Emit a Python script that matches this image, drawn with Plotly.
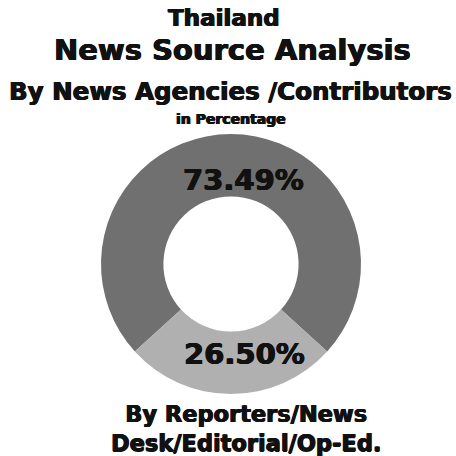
import plotly.graph_objects as go

# Share of news items by source
labels = ["By News Agencies /Contributors", "By Reporters/News Desk/Editorial/Op-Ed."]
values = [73.49, 26.50]
colors = ["#707070", "#b0b0b0"]

W = H = 456
FONT = "DejaVu Sans"
# thin outline to give the bold face a heavier, poster-like weight
HEAVY = "0.6px 0 0 #111111, -0.6px 0 0 #111111, 0 0.4px 0 #111111"

def px(x):
    return x / W

def py(y):
    return 1 - y / H

fig = go.Figure(
    go.Pie(
        labels=labels,
        values=values,
        hole=0.52,
        sort=False,
        direction="clockwise",
        rotation=227.7,
        marker=dict(colors=colors, line=dict(width=0)),
        textinfo="none",
        hoverinfo="label+percent",
        domain=dict(x=[px(231 - 130), px(231 + 130)], y=[py(264 + 130), py(264 - 130)]),
    )
)

annotations = [
    dict(text="Thailand", x=px(224), y=py(18), size=23),
    dict(text="News Source Analysis", x=px(232), y=py(50), size=29),
    dict(text="By News Agencies /Contributors", x=px(230), y=py(91), size=24.5),
    dict(text="in Percentage", x=px(231), y=py(119), size=14),
    dict(text="By Reporters/News<br>Desk/Editorial/Op-Ed.", x=px(246), y=py(428), size=22.5),
    dict(text=f"{values[0]:.2f}%", x=px(243), y=py(180), size=29),
    dict(text=f"{values[1]:.2f}%", x=px(245), y=py(354), size=29),
]

fig.update_layout(
    width=W,
    height=H,
    margin=dict(l=0, r=0, t=0, b=0),
    paper_bgcolor="white",
    plot_bgcolor="white",
    showlegend=False,
    annotations=[
        dict(
            text=a["text"],
            x=a["x"],
            y=a["y"],
            xref="paper",
            yref="paper",
            xanchor="center",
            yanchor="middle",
            showarrow=False,
            font=dict(family=FONT, size=a["size"], color="#111111", weight="bold", shadow=HEAVY),
        )
        for a in annotations
    ],
)

fig.write_html("out.html")
